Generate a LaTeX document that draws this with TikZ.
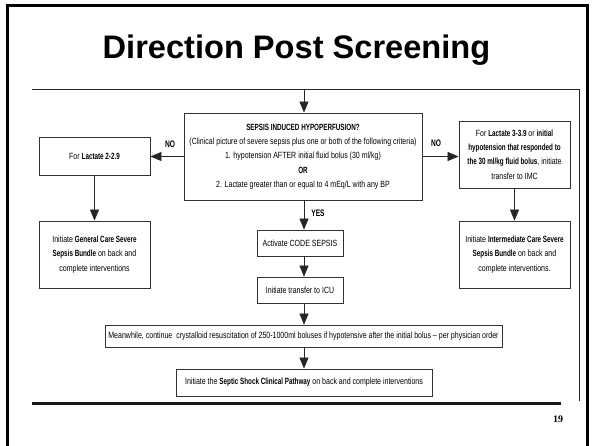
\documentclass[tikz,border=0pt]{standalone}
\usepackage{fontspec}
\setmainfont{Liberation Sans}
\newfontfamily\narrowsans[FakeStretch=0.78, BoldFeatures={FakeStretch=0.7}]{Liberation Sans}
\newfontfamily\slidenum{Liberation Serif}
\usetikzlibrary{arrows.meta}

\tikzset{
  box/.style={draw=black!80, line width=0.8pt, align=center, inner sep=1pt,
    font=\narrowsans\fontsize{9}{14.3}\selectfont},
  flow/.style={line width=0.7pt, draw=black!85,
    -{Triangle[length=11pt,width=9pt]}},
  tag/.style={font=\narrowsans\bfseries\fontsize{9.5}{11}\selectfont, inner sep=0pt},
}

\begin{document}
\begin{tikzpicture}[x=1pt, y=-1pt]
  \useasboundingbox (0,0) rectangle (593,446);

  % slide frame
  \draw[line width=3pt, line join=miter] (7.5,446) -- (7.5,6) -- (587,6) -- (587,446);

  % title
  \node[font=\bfseries\fontsize{32.6}{36}\selectfont, anchor=base, inner sep=0pt]
    (title) at (296.5,59) {Direction Post Screening};

  % flowchart border and footer rule
  \coordinate (fTL) at (32,89.5);
  \coordinate (fTR) at (579,89.5);
  \coordinate (fBR) at (579,401);
  \draw[line width=0.8pt, black!85] (fTL) -- (fTR) -- (fBR);
  \coordinate (rL) at (32,403);
  \coordinate (rR) at (561,403);
  \draw[line width=3pt, black!90] (rL) -- (rR);

  % central question
  \node[box, minimum width=238pt, minimum height=87pt] (main) at (303,156.5)
    {\textbf{SEPSIS INDUCED HYPOPERFUSION?}\\
     (Clinical picture of severe sepsis plus one or both of the following criteria)\\
     1. hypotension AFTER initial fluid bolus (30 ml/kg)\\
     \textbf{OR}\\
     2. Lactate greater than or equal to 4 mEq/L with any BP};

  % left branch
  \node[box, minimum width=111pt, minimum height=38pt] (lac2) at (94.5,156.5)
    {For \textbf{Lactate 2-2.9}};
  \node[box, minimum width=111pt, minimum height=67pt] (gen) at (94.5,254.5)
    {Initiate \textbf{General Care Severe}\\
     \textbf{Sepsis Bundle} on back and\\
     complete interventions};

  % right branch
  \node[box, minimum width=111pt, minimum height=67pt] (lac3) at (514.5,154.5)
    {For \textbf{Lactate 3-3.9} or \textbf{initial}\\
     \textbf{hypotension that responded to}\\
     \textbf{the 30 ml/kg fluid bolus}, initiate\\
     transfer to IMC};
  \node[box, minimum width=111pt, minimum height=67pt] (imc) at (514.5,254.5)
    {Initiate \textbf{Intermediate Care Severe}\\
     \textbf{Sepsis Bundle} on back and\\
     complete interventions.};

  % central spine
  \node[box, minimum width=86pt, minimum height=26pt] (code) at (300,243)
    {Activate CODE SEPSIS};
  \node[box, minimum width=86pt, minimum height=26pt] (icu) at (300,290)
    {Initiate transfer to ICU};
  \node[box, minimum width=397pt, minimum height=22pt] (fluid) at (303.5,336)
    {Meanwhile, continue\ \ crystalloid resuscitation of 250-1000ml boluses if hypotensive after the initial bolus – per physician order};
  \node[box, minimum width=256pt, minimum height=27pt] (shock) at (304,382.5)
    {Initiate the \textbf{Septic Shock Clinical Pathway} on back and complete interventions};

  % connectors
  \coordinate (spine) at (304,0);
  \coordinate (entry) at (304,89.5);
  \draw[flow] (entry) -- (main.north -| spine);
  \draw[flow] (main.south -| spine) -- (code.north -| spine);
  \draw[flow] (code.south -| spine) -- (icu.north -| spine);
  \draw[flow] (icu.south -| spine) -- (fluid.north -| spine);
  \draw[flow] (fluid.south -| spine) -- (shock.north -| spine);
  \draw[flow] (main.west) -- (main.west -| lac2.east);
  \draw[flow] (main.east) -- (main.east -| lac3.west);
  \draw[flow] (lac2.south) -- (gen.north);
  \draw[flow] (lac3.south) -- (imc.north);

  % branch labels
  \node[tag] (noL) at (170,144) {NO};
  \node[tag] (noR) at (436,143) {NO};
  \node[tag] (yes) at (318,213) {YES};

  % page number
  \node[font=\slidenum\bfseries\fontsize{10}{12}\selectfont, inner sep=0pt]
    (page) at (558,419) {19};
\end{tikzpicture}
\end{document}
